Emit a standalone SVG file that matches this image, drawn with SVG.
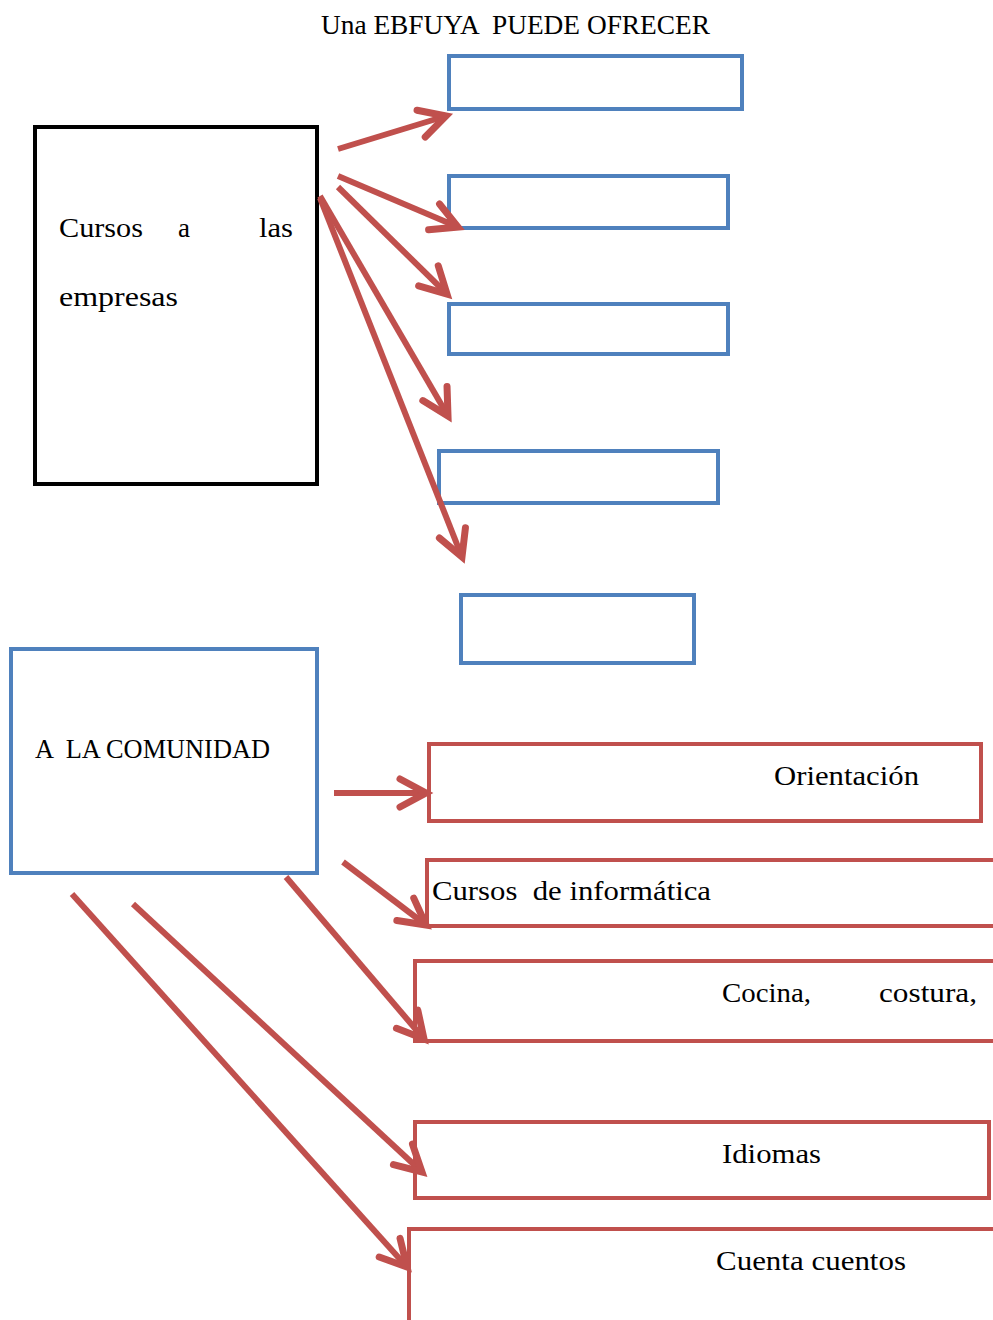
<svg xmlns="http://www.w3.org/2000/svg" width="993" height="1320" viewBox="0 0 993 1320" xml:space="preserve">
<style>
text{font-family:"Liberation Serif","DejaVu Serif",serif;font-size:27px;fill:#000;white-space:pre}
.blue{fill:#fff;stroke:#4F81BD;stroke-width:4}
.red{fill:#fff;stroke:#C0504D;stroke-width:4}
.blk{fill:#fff;stroke:#000;stroke-width:4}
.arr{stroke:#C0504D;stroke-width:6;fill:none;marker-end:url(#ah)}
</style>
<defs>
<marker id="ah" markerUnits="userSpaceOnUse" markerWidth="50" markerHeight="50" viewBox="-40 -25 50 50" refX="0" refY="0" orient="auto">
<path d="M-26,-14 L0,0 L-26,14" fill="none" stroke="#C0504D" stroke-width="7" stroke-linecap="round" stroke-linejoin="miter"/>
</marker>
</defs>
<rect width="993" height="1320" fill="#fff"/>
<text id="title" x="321" y="34" textLength="389" lengthAdjust="spacingAndGlyphs">Una EBFUYA  PUEDE OFRECER</text>
<g id="empresas">
<rect class="blk" x="35" y="127" width="282" height="357"/>
<text x="59" y="237" textLength="84" lengthAdjust="spacingAndGlyphs">Cursos</text>
<text x="178" y="237" textLength="12" lengthAdjust="spacingAndGlyphs">a</text>
<text x="259" y="237" textLength="34" lengthAdjust="spacingAndGlyphs">las</text>
<text x="59" y="306" textLength="119" lengthAdjust="spacingAndGlyphs">empresas</text>
</g>
<g id="b1"><rect class="blue" x="449" y="56" width="293" height="53"/></g>
<g id="b2"><rect class="blue" x="449" y="176" width="279" height="52"/></g>
<g id="b3"><rect class="blue" x="449" y="304" width="279" height="50"/></g>
<g id="b4"><rect class="blue" x="439" y="451" width="279" height="52"/></g>
<g id="b5"><rect class="blue" x="461" y="595" width="233" height="68"/></g>
<g id="comunidad">
<rect class="blue" x="11" y="649" width="306" height="224"/>
<text x="35" y="758" textLength="235" lengthAdjust="spacingAndGlyphs">A  LA COMUNIDAD</text>
</g>
<g id="r1"><rect class="red" x="429" y="744" width="552" height="77"/>
<text x="774" y="785" textLength="145" lengthAdjust="spacingAndGlyphs">Orientación</text></g>
<g id="r2"><rect class="red" x="427" y="860" width="580" height="66"/>
<text x="432" y="900" textLength="279" lengthAdjust="spacingAndGlyphs">Cursos  de informática</text></g>
<g id="r3"><rect class="red" x="415" y="961" width="592" height="80"/>
<text x="722" y="1002" textLength="89" lengthAdjust="spacingAndGlyphs">Cocina,</text>
<text x="879" y="1002" textLength="98" lengthAdjust="spacingAndGlyphs">costura,</text></g>
<g id="r4"><rect class="red" x="415" y="1122" width="574" height="76"/>
<text x="722" y="1163" textLength="99" lengthAdjust="spacingAndGlyphs">Idiomas</text></g>
<g id="r5"><rect class="red" x="409" y="1229" width="600" height="110"/>
<text x="716" y="1270" textLength="190" lengthAdjust="spacingAndGlyphs">Cuenta cuentos</text></g>
<g id="connectors">
<line class="arr" x1="338" y1="149" x2="446" y2="116"/>
<line class="arr" x1="338" y1="176" x2="458" y2="227"/>
<line class="arr" x1="338" y1="187" x2="447" y2="294"/>
<line class="arr" x1="320" y1="196" x2="448" y2="416"/>
<line class="arr" x1="320" y1="198" x2="462" y2="557"/>
<line class="arr" x1="334" y1="793" x2="426" y2="793"/>
<line class="arr" x1="343" y1="862" x2="426" y2="925"/>
<line class="arr" x1="286" y1="877" x2="424" y2="1039"/>
<line class="arr" x1="133" y1="904" x2="422" y2="1172"/>
<line class="arr" x1="72" y1="894" x2="407" y2="1267"/>
</g>
</svg>
